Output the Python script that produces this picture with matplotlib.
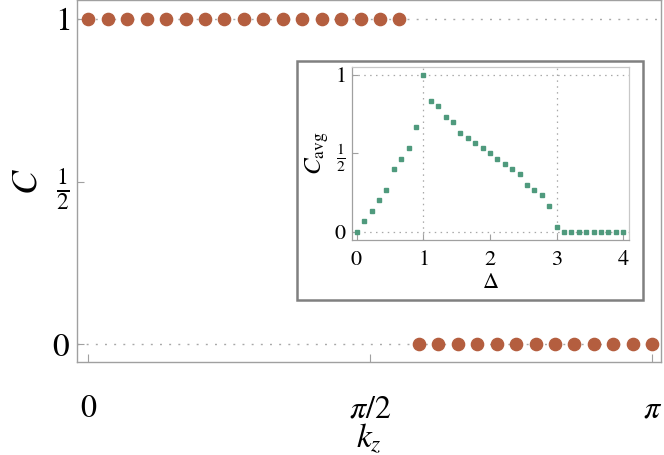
import matplotlib
matplotlib.use("Agg")
import matplotlib.pyplot as plt
from matplotlib.patches import Rectangle

plt.rcParams["mathtext.fontset"] = "stix"
plt.rcParams["font.family"] = ["STIXGeneral", "DejaVu Serif"]

# main panel: Chern number vs k_z
kz = [0.000, 0.108, 0.217, 0.325, 0.433, 0.542, 0.650, 0.758, 0.867, 0.975,
      1.083, 1.192, 1.300, 1.408, 1.517, 1.625, 1.733, 1.842, 1.950, 2.058,
      2.167, 2.275, 2.383, 2.492, 2.600, 2.708, 2.817, 2.925, 3.033, 3.142]
chern = [1, 1, 1, 1, 1, 1, 1, 1, 1, 1, 1, 1, 1, 1, 1, 1, 1,
         0, 0, 0, 0, 0, 0, 0, 0, 0, 0, 0, 0, 0]

# inset: averaged Chern number vs Delta
delta = [0.000, 0.111, 0.222, 0.333, 0.444, 0.556, 0.667, 0.778, 0.889, 1.000,
         1.111, 1.222, 1.333, 1.444, 1.556, 1.667, 1.778, 1.889, 2.000, 2.111,
         2.222, 2.333, 2.444, 2.556, 2.667, 2.778, 2.889, 3.000, 3.111, 3.222,
         3.333, 3.444, 3.556, 3.667, 3.778, 3.889, 4.000]
c_avg = [0.000, 0.067, 0.133, 0.200, 0.267, 0.400, 0.467, 0.533, 0.667, 1.000,
         0.833, 0.800, 0.733, 0.700, 0.633, 0.600, 0.567, 0.533, 0.500, 0.467,
         0.433, 0.400, 0.367, 0.300, 0.267, 0.233, 0.167, 0.033, 0.000, 0.000,
         0.000, 0.000, 0.000, 0.000, 0.000, 0.000, 0.000]

x_ticks = [0, 3.14159 / 2, 3.14159]
x_labels = [r"$0$", r"$\pi/2$", r"$\pi$"]
y_ticks = [0, 0.5, 1]
y_labels = [r"$0$", r"$\frac{1}{2}$", r"$1$"]
inset_xticks = [0, 1, 2, 3, 4]
inset_xlabels = [r"$0$", r"$1$", r"$2$", r"$3$", r"$4$"]

RUST = "#b45e3f"
TEAL = "#4f9a7d"
GRID = "#a8a8a8"
SPINE = "#a0a0a0"

fig = plt.figure(figsize=(6.64, 4.55), dpi=100)

ax = fig.add_axes([0.1155, 0.205, 0.880, 0.794])
for y in (0, 1):
    ax.axhline(y, color=GRID, lw=1.0, ls=(0, (1.4, 5.2)), zorder=1)
ax.plot(kz, chern, "o", color=RUST, ms=8.8, zorder=3)
ax.set_xlim(-0.0646, 3.19)
ax.set_ylim(-0.053, 1.057)
ax.set_xticks(x_ticks)
ax.set_xticklabels(x_labels, fontsize=23)
ax.set_yticks(y_ticks)
ax.set_yticklabels(y_labels, fontsize=24)
ax.tick_params(axis="x", direction="in", length=6, color=SPINE, pad=24)
ax.tick_params(axis="y", direction="in", length=5, color=SPINE, pad=5)
for s in ax.spines.values():
    s.set_color(SPINE)
    s.set_linewidth(1.0)
ax.set_xlabel(r"$k_z$", fontsize=24, va="baseline")
ax.xaxis.set_label_coords(0.5, -0.236)
ax.set_ylabel(r"$C$", fontsize=26, labelpad=5)

# inset frame
box = Rectangle((0.447, 0.3407), 0.521, 0.526, transform=fig.transFigure,
                facecolor="white", edgecolor="#808080", lw=1.8, zorder=5)
fig.patches.append(box)

ins = fig.add_axes([0.5297, 0.4725, 0.418, 0.3802])
ins.set_zorder(6)
for y in (0, 1):
    ins.axhline(y, color=GRID, lw=0.9, ls=(0, (1.2, 3.5)), zorder=1)
for x in (1, 3):
    ins.axvline(x, color=GRID, lw=0.9, ls=(0, (1.2, 3.5)), zorder=1)
ins.plot(delta, c_avg, "s", color=TEAL, ms=3.4, zorder=3)
ins.set_xlim(-0.075, 4.09)
ins.set_ylim(-0.053, 1.051)
ins.set_xticks(inset_xticks)
ins.set_xticklabels(inset_xlabels, fontsize=16)
ins.set_yticks(y_ticks)
ins.set_yticklabels(y_labels, fontsize=16)
ins.tick_params(axis="x", direction="in", length=4, color=SPINE, pad=7)
ins.tick_params(axis="y", direction="in", length=4, color=SPINE, pad=4)
for s in ins.spines.values():
    s.set_color("#c8c8c8")
    s.set_linewidth(0.9)
ins.spines["left"].set_color(SPINE)
ins.spines["bottom"].set_color(SPINE)
ins.set_xlabel(r"$\Delta$", fontsize=16, labelpad=3)
ins.set_ylabel(r"$C_{\mathrm{avg}}$", fontsize=18, labelpad=2)

fig.savefig("out.png", dpi=100)
